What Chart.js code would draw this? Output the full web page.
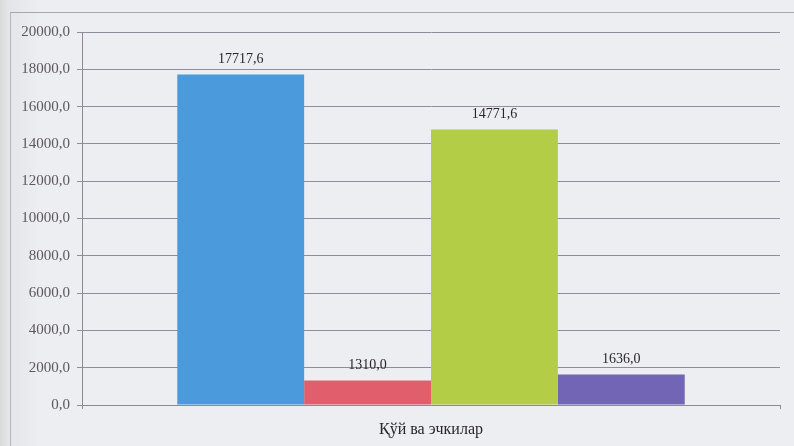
<!DOCTYPE html>
<html>
<head>
<meta charset="utf-8">
<script src="https://cdn.jsdelivr.net/npm/chart.js@4"></script>
<style>
  html, body { margin: 0; padding: 0; }
  body {
    width: 794px; height: 446px; overflow: hidden; position: relative;
    background: linear-gradient(90deg, #d9d9dc 0px, #e4e5e8 8px, #eceef1 40px, #edeef2 100%);
  }
  #frame {
    position: absolute; left: 10px; top: 12px; right: 0; bottom: 0;
    border-left: 1px solid #b8b6bc; border-top: 1px solid #a9a5ad;
  }
  #chartBox { position: absolute; left: 0; top: 0; width: 794px; height: 446px; }
</style>
</head>
<body>
<div id="frame"></div>
<div id="chartBox"><canvas id="chart" width="794" height="446"></canvas></div>
<script>
const categories = ['Қўй ва эчкилар'];
const seriesA = [17717.6];
const seriesB = [1310.0];
const seriesC = [14771.6];
const seriesD = [1636.0];
const barColors = ['#4b9bdc', '#e15f6d', '#b4cd46', '#7365b5'];
const yTicks = [0, 2000, 4000, 6000, 8000, 10000, 12000, 14000, 16000, 18000, 20000];

function fmt(v) {
  return v.toFixed(1).replace('.', ',');
}

// numbers above each bar
const valueLabels = {
  id: 'valueLabels',
  afterDatasetsDraw(chart) {
    const ctx = chart.ctx;
    ctx.save();
    ctx.font = '14px "Liberation Serif", serif';
    ctx.fillStyle = '#2a262c';
    ctx.textAlign = 'center';
    ctx.textBaseline = 'middle';
    chart.data.datasets.forEach((ds, i) => {
      chart.getDatasetMeta(i).data.forEach((bar, j) => {
        ctx.fillText(fmt(ds.data[j]), bar.x, bar.y - 15);
      });
    });
    ctx.restore();
  }
};

const ctx = document.getElementById('chart').getContext('2d');
new Chart(ctx, {
  type: 'bar',
  data: {
    labels: categories,
    datasets: [
      { label: 'A', data: seriesA, backgroundColor: barColors[0] },
      { label: 'B', data: seriesB, backgroundColor: barColors[1] },
      { label: 'C', data: seriesC, backgroundColor: barColors[2] },
      { label: 'D', data: seriesD, backgroundColor: barColors[3] }
    ]
  },
  options: {
    responsive: false,
    animation: false,
    layout: { padding: { left: 0, right: 14, top: 32, bottom: 0 } },
    plugins: { legend: { display: false }, tooltip: { enabled: false } },
    datasets: { bar: { barPercentage: 1, categoryPercentage: 0.727 } },
    scales: {
      x: {
        grid: { drawOnChartArea: false, drawTicks: true, tickLength: 4, color: '#8f8795' },
        border: { color: '#8f8795' },
        ticks: { color: '#2a262c', padding: 11, font: { family: '"Liberation Serif", serif', size: 16 } },
        afterFit(scale) { scale.height = 41; }
      },
      y: {
        min: 0,
        max: 20000,
        afterBuildTicks(scale) { scale.ticks = yTicks.map(v => ({ value: v })); },
        grid: { color: '#958c99', lineWidth: 1, tickLength: 5 },
        border: { color: '#8f8795' },
        ticks: {
          color: '#5d585f',
          padding: 7,
          font: { family: '"Liberation Serif", serif', size: 15 },
          callback: v => fmt(v)
        },
        afterFit(scale) { scale.width = 82; }
      }
    }
  },
  plugins: [valueLabels]
});
</script>
</body>
</html>
